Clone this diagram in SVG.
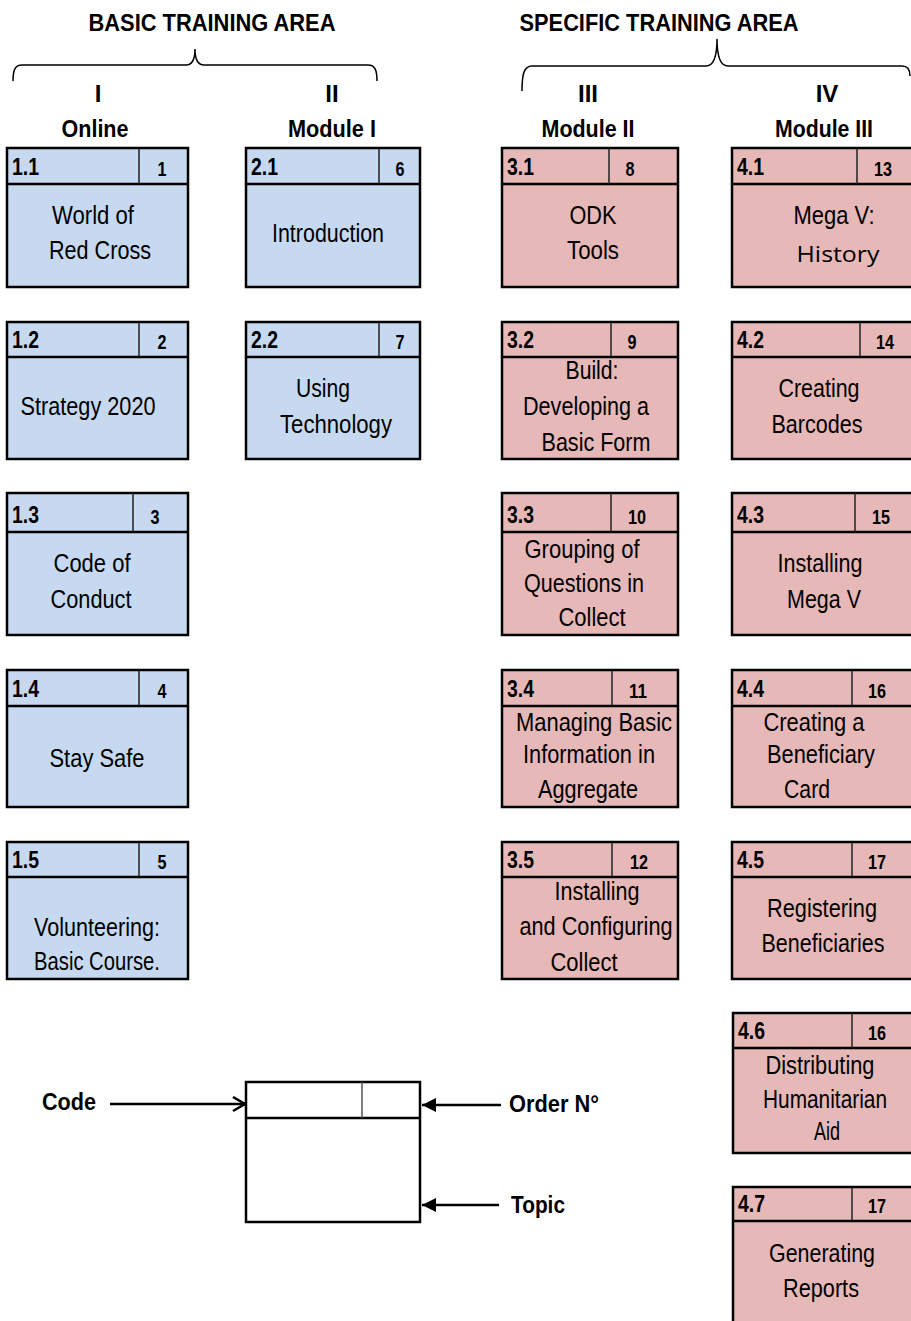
<svg xmlns="http://www.w3.org/2000/svg" width="911" height="1321" viewBox="0 0 911 1321">
<style>
text{font-family:'Liberation Sans Narrow','Liberation Sans',Arial,sans-serif;fill:#000}
.h{font-size:24px;font-weight:bold;text-anchor:middle}
.t{font-size:25px;text-anchor:middle}
.c{font-size:23px;font-weight:bold}
.n{font-size:20px;font-weight:bold;text-anchor:middle}
.lg{font-size:24px;font-weight:bold}
.blue rect{fill:#C6D9F0;stroke:#000;stroke-width:2.5}
.pink rect{fill:#E6B8B7;stroke:#000;stroke-width:2.5}
.hd{stroke:#000;stroke-width:2.5}
.dv{stroke:#222;stroke-width:1.5}
.br{fill:none;stroke:#000;stroke-width:1.5}
.ar{stroke:#000;stroke-width:2.5;fill:none}
</style>
<defs>
<marker id="open" markerUnits="userSpaceOnUse" markerWidth="16" markerHeight="18" refX="13" refY="8" orient="auto"><path d="M1,1 L13,8 L1,15" fill="none" stroke="#000" stroke-width="2.5"/></marker>
<marker id="fill" markerUnits="userSpaceOnUse" markerWidth="16" markerHeight="16" refX="14" refY="7" orient="auto"><path d="M0,0 L14,7 L0,14 z" fill="#000"/></marker>
</defs>

<g id="titles">
<text class="h" x="212" y="31" textLength="247" lengthAdjust="spacingAndGlyphs">BASIC TRAINING AREA</text>
<text class="h" x="659" y="31" textLength="279" lengthAdjust="spacingAndGlyphs">SPECIFIC TRAINING AREA</text>
<path class="br" d="M13,81 C13,70 15,65 22,65 L186,65 C192,65 195,60 195,49 C195,60 198,65 204,65 L368,65 C375,65 377,70 377,81"/>
<path class="br" d="M522,91 C522,74 524,66 532,66 L706,66 C713,66 717,58 717,39 C717,58 721,66 728,66 L902,66 C908,66 910,70 910,76"/>
<text class="h" x="98" y="102">I</text>
<text class="h" x="95" y="137" textLength="67" lengthAdjust="spacingAndGlyphs">Online</text>
<text class="h" x="332" y="102">II</text>
<text class="h" x="332" y="137" textLength="88" lengthAdjust="spacingAndGlyphs">Module I</text>
<text class="h" x="588" y="102">III</text>
<text class="h" x="588" y="137" textLength="93" lengthAdjust="spacingAndGlyphs">Module II</text>
<text class="h" x="827" y="102">IV</text>
<text class="h" x="824" y="137" textLength="98" lengthAdjust="spacingAndGlyphs">Module III</text>
</g>

<!-- Column I -->
<g id="n1-1" class="blue">
<rect x="7" y="148" width="181" height="139"/>
<line class="hd" x1="7" y1="184" x2="188" y2="184"/><line class="dv" x1="139" y1="148" x2="139" y2="184"/>
<text class="c" x="12" y="175" textLength="27" lengthAdjust="spacingAndGlyphs">1.1</text>
<text class="n" x="162" y="176" textLength="9" lengthAdjust="spacingAndGlyphs">1</text>
<text class="t" x="93" y="224" textLength="82" lengthAdjust="spacingAndGlyphs">World of</text>
<text class="t" x="100" y="259" textLength="102" lengthAdjust="spacingAndGlyphs">Red Cross</text>
</g>
<g id="n1-2" class="blue">
<rect x="7" y="322" width="181" height="137"/>
<line class="hd" x1="7" y1="357" x2="188" y2="357"/><line class="dv" x1="139" y1="322" x2="139" y2="357"/>
<text class="c" x="12" y="348" textLength="27" lengthAdjust="spacingAndGlyphs">1.2</text>
<text class="n" x="162" y="349" textLength="9" lengthAdjust="spacingAndGlyphs">2</text>
<text class="t" x="88" y="415" textLength="135" lengthAdjust="spacingAndGlyphs">Strategy 2020</text>
</g>
<g id="n1-3" class="blue">
<rect x="7" y="493" width="181" height="142"/>
<line class="hd" x1="7" y1="532" x2="188" y2="532"/><line class="dv" x1="133" y1="493" x2="133" y2="532"/>
<text class="c" x="12" y="523" textLength="27" lengthAdjust="spacingAndGlyphs">1.3</text>
<text class="n" x="155" y="524" textLength="9" lengthAdjust="spacingAndGlyphs">3</text>
<text class="t" x="92" y="572" textLength="77" lengthAdjust="spacingAndGlyphs">Code of</text>
<text class="t" x="91" y="608" textLength="81" lengthAdjust="spacingAndGlyphs">Conduct</text>
</g>
<g id="n1-4" class="blue">
<rect x="7" y="670" width="181" height="137"/>
<line class="hd" x1="7" y1="706" x2="188" y2="706"/><line class="dv" x1="139" y1="670" x2="139" y2="706"/>
<text class="c" x="12" y="697" textLength="27" lengthAdjust="spacingAndGlyphs">1.4</text>
<text class="n" x="162" y="698" textLength="9" lengthAdjust="spacingAndGlyphs">4</text>
<text class="t" x="97" y="767" textLength="95" lengthAdjust="spacingAndGlyphs">Stay Safe</text>
</g>
<g id="n1-5" class="blue">
<rect x="7" y="842" width="181" height="137"/>
<line class="hd" x1="7" y1="877" x2="188" y2="877"/><line class="dv" x1="139" y1="842" x2="139" y2="877"/>
<text class="c" x="12" y="868" textLength="27" lengthAdjust="spacingAndGlyphs">1.5</text>
<text class="n" x="162" y="869" textLength="9" lengthAdjust="spacingAndGlyphs">5</text>
<text class="t" x="97" y="936" textLength="126" lengthAdjust="spacingAndGlyphs">Volunteering:</text>
<text class="t" x="97" y="970" textLength="126" lengthAdjust="spacingAndGlyphs">Basic Course.</text>
</g>

<!-- Column II -->
<g id="n2-1" class="blue">
<rect x="246" y="148" width="174" height="139"/>
<line class="hd" x1="246" y1="184" x2="420" y2="184"/><line class="dv" x1="379" y1="148" x2="379" y2="184"/>
<text class="c" x="251" y="175" textLength="27" lengthAdjust="spacingAndGlyphs">2.1</text>
<text class="n" x="400" y="176" textLength="9" lengthAdjust="spacingAndGlyphs">6</text>
<text class="t" x="328" y="242" textLength="112" lengthAdjust="spacingAndGlyphs">Introduction</text>
</g>
<g id="n2-2" class="blue">
<rect x="246" y="322" width="174" height="137"/>
<line class="hd" x1="246" y1="357" x2="420" y2="357"/><line class="dv" x1="379" y1="322" x2="379" y2="357"/>
<text class="c" x="251" y="348" textLength="27" lengthAdjust="spacingAndGlyphs">2.2</text>
<text class="n" x="400" y="349" textLength="9" lengthAdjust="spacingAndGlyphs">7</text>
<text class="t" x="323" y="397" textLength="54" lengthAdjust="spacingAndGlyphs">Using</text>
<text class="t" x="336" y="433" textLength="112" lengthAdjust="spacingAndGlyphs">Technology</text>
</g>

<!-- Column III -->
<g id="n3-1" class="pink">
<rect x="502" y="148" width="176" height="139"/>
<line class="hd" x1="502" y1="184" x2="678" y2="184"/><line class="dv" x1="609" y1="148" x2="609" y2="184"/>
<text class="c" x="507" y="175" textLength="27" lengthAdjust="spacingAndGlyphs">3.1</text>
<text class="n" x="630" y="176" textLength="9" lengthAdjust="spacingAndGlyphs">8</text>
<text class="t" x="593" y="224" textLength="47" lengthAdjust="spacingAndGlyphs">ODK</text>
<text class="t" x="593" y="259" textLength="52" lengthAdjust="spacingAndGlyphs">Tools</text>
</g>
<g id="n3-2" class="pink">
<rect x="502" y="322" width="176" height="137"/>
<line class="hd" x1="502" y1="357" x2="678" y2="357"/><line class="dv" x1="611" y1="322" x2="611" y2="357"/>
<text class="c" x="507" y="348" textLength="27" lengthAdjust="spacingAndGlyphs">3.2</text>
<text class="n" x="632" y="349" textLength="9" lengthAdjust="spacingAndGlyphs">9</text>
<text class="t" x="592" y="379" textLength="53" lengthAdjust="spacingAndGlyphs">Build:</text>
<text class="t" x="586" y="415" textLength="126" lengthAdjust="spacingAndGlyphs">Developing a</text>
<text class="t" x="596" y="451" textLength="109" lengthAdjust="spacingAndGlyphs">Basic Form</text>
</g>
<g id="n3-3" class="pink">
<rect x="502" y="493" width="176" height="142"/>
<line class="hd" x1="502" y1="532" x2="678" y2="532"/><line class="dv" x1="611" y1="493" x2="611" y2="532"/>
<text class="c" x="507" y="523" textLength="27" lengthAdjust="spacingAndGlyphs">3.3</text>
<text class="n" x="637" y="524" textLength="18" lengthAdjust="spacingAndGlyphs">10</text>
<text class="t" x="582" y="558" textLength="115" lengthAdjust="spacingAndGlyphs">Grouping of</text>
<text class="t" x="584" y="592" textLength="120" lengthAdjust="spacingAndGlyphs">Questions in</text>
<text class="t" x="592" y="626" textLength="67" lengthAdjust="spacingAndGlyphs">Collect</text>
</g>
<g id="n3-4" class="pink">
<rect x="502" y="670" width="176" height="137"/>
<line class="hd" x1="502" y1="706" x2="678" y2="706"/><line class="dv" x1="612" y1="670" x2="612" y2="706"/>
<text class="c" x="507" y="697" textLength="27" lengthAdjust="spacingAndGlyphs">3.4</text>
<text class="n" x="638" y="698" textLength="18" lengthAdjust="spacingAndGlyphs">11</text>
<text class="t" x="594" y="731" textLength="156" lengthAdjust="spacingAndGlyphs">Managing Basic</text>
<text class="t" x="589" y="763" textLength="132" lengthAdjust="spacingAndGlyphs">Information in</text>
<text class="t" x="588" y="798" textLength="100" lengthAdjust="spacingAndGlyphs">Aggregate</text>
</g>
<g id="n3-5" class="pink">
<rect x="502" y="842" width="176" height="137"/>
<line class="hd" x1="502" y1="877" x2="678" y2="877"/><line class="dv" x1="612" y1="842" x2="612" y2="877"/>
<text class="c" x="507" y="868" textLength="27" lengthAdjust="spacingAndGlyphs">3.5</text>
<text class="n" x="639" y="869" textLength="18" lengthAdjust="spacingAndGlyphs">12</text>
<text class="t" x="597" y="900" textLength="85" lengthAdjust="spacingAndGlyphs">Installing</text>
<text class="t" x="596" y="935" textLength="153" lengthAdjust="spacingAndGlyphs">and Configuring</text>
<text class="t" x="584" y="971" textLength="67" lengthAdjust="spacingAndGlyphs">Collect</text>
</g>

<!-- Column IV -->
<g id="n4-1" class="pink">
<rect x="732" y="148" width="186" height="139"/>
<line class="hd" x1="732" y1="184" x2="918" y2="184"/><line class="dv" x1="857" y1="148" x2="857" y2="184"/>
<text class="c" x="737" y="175" textLength="27" lengthAdjust="spacingAndGlyphs">4.1</text>
<text class="n" x="883" y="176" textLength="18" lengthAdjust="spacingAndGlyphs">13</text>
<text class="t" x="834" y="224" textLength="81" lengthAdjust="spacingAndGlyphs">Mega V:</text>
<text x="838" y="262" style="font-family:'Open Sans','Noto Sans',sans-serif;font-size:22px;text-anchor:middle" textLength="83" lengthAdjust="spacingAndGlyphs">History</text>
</g>
<g id="n4-2" class="pink">
<rect x="732" y="322" width="186" height="137"/>
<line class="hd" x1="732" y1="357" x2="918" y2="357"/><line class="dv" x1="860" y1="322" x2="860" y2="357"/>
<text class="c" x="737" y="348" textLength="27" lengthAdjust="spacingAndGlyphs">4.2</text>
<text class="n" x="885" y="349" textLength="18" lengthAdjust="spacingAndGlyphs">14</text>
<text class="t" x="819" y="397" textLength="81" lengthAdjust="spacingAndGlyphs">Creating</text>
<text class="t" x="817" y="433" textLength="91" lengthAdjust="spacingAndGlyphs">Barcodes</text>
</g>
<g id="n4-3" class="pink">
<rect x="732" y="493" width="186" height="142"/>
<line class="hd" x1="732" y1="532" x2="918" y2="532"/><line class="dv" x1="855" y1="493" x2="855" y2="532"/>
<text class="c" x="737" y="523" textLength="27" lengthAdjust="spacingAndGlyphs">4.3</text>
<text class="n" x="881" y="524" textLength="18" lengthAdjust="spacingAndGlyphs">15</text>
<text class="t" x="820" y="572" textLength="85" lengthAdjust="spacingAndGlyphs">Installing</text>
<text class="t" x="824" y="608" textLength="74" lengthAdjust="spacingAndGlyphs">Mega V</text>
</g>
<g id="n4-4" class="pink">
<rect x="732" y="670" width="186" height="137"/>
<line class="hd" x1="732" y1="706" x2="918" y2="706"/><line class="dv" x1="852" y1="670" x2="852" y2="706"/>
<text class="c" x="737" y="697" textLength="27" lengthAdjust="spacingAndGlyphs">4.4</text>
<text class="n" x="877" y="698" textLength="18" lengthAdjust="spacingAndGlyphs">16</text>
<text class="t" x="814" y="731" textLength="101" lengthAdjust="spacingAndGlyphs">Creating a</text>
<text class="t" x="821" y="763" textLength="108" lengthAdjust="spacingAndGlyphs">Beneficiary</text>
<text class="t" x="807" y="798" textLength="46" lengthAdjust="spacingAndGlyphs">Card</text>
</g>
<g id="n4-5" class="pink">
<rect x="732" y="842" width="186" height="137"/>
<line class="hd" x1="732" y1="877" x2="918" y2="877"/><line class="dv" x1="852" y1="842" x2="852" y2="877"/>
<text class="c" x="737" y="868" textLength="27" lengthAdjust="spacingAndGlyphs">4.5</text>
<text class="n" x="877" y="869" textLength="18" lengthAdjust="spacingAndGlyphs">17</text>
<text class="t" x="822" y="917" textLength="110" lengthAdjust="spacingAndGlyphs">Registering</text>
<text class="t" x="823" y="952" textLength="123" lengthAdjust="spacingAndGlyphs">Beneficiaries</text>
</g>
<g id="n4-6" class="pink">
<rect x="733" y="1013" width="185" height="140"/>
<line class="hd" x1="733" y1="1048" x2="918" y2="1048"/><line class="dv" x1="852" y1="1013" x2="852" y2="1048"/>
<text class="c" x="738" y="1039" textLength="27" lengthAdjust="spacingAndGlyphs">4.6</text>
<text class="n" x="877" y="1040" textLength="18" lengthAdjust="spacingAndGlyphs">16</text>
<text class="t" x="820" y="1074" textLength="109" lengthAdjust="spacingAndGlyphs">Distributing</text>
<text class="t" x="825" y="1108" textLength="124" lengthAdjust="spacingAndGlyphs">Humanitarian</text>
<text class="t" x="827" y="1140" textLength="26" lengthAdjust="spacingAndGlyphs">Aid</text>
</g>
<g id="n4-7" class="pink">
<rect x="733" y="1187" width="185" height="150"/>
<line class="hd" x1="733" y1="1221" x2="918" y2="1221"/><line class="dv" x1="852" y1="1187" x2="852" y2="1221"/>
<text class="c" x="738" y="1212" textLength="27" lengthAdjust="spacingAndGlyphs">4.7</text>
<text class="n" x="877" y="1213" textLength="18" lengthAdjust="spacingAndGlyphs">17</text>
<text class="t" x="822" y="1262" textLength="106" lengthAdjust="spacingAndGlyphs">Generating</text>
<text class="t" x="821" y="1297" textLength="76" lengthAdjust="spacingAndGlyphs">Reports</text>
</g>

<!-- Legend -->
<g id="legend">
<rect x="246" y="1082" width="174" height="140" fill="#fff" stroke="#000" stroke-width="2.5"/>
<line class="hd" x1="246" y1="1118" x2="420" y2="1118"/>
<line x1="362" y1="1082" x2="362" y2="1118" stroke="#555" stroke-width="1.5"/>
</g>
<g id="legend-labels">
<text class="lg" x="42" y="1110" textLength="54" lengthAdjust="spacingAndGlyphs">Code</text>
<text class="lg" x="509" y="1112" textLength="90" lengthAdjust="spacingAndGlyphs">Order N°</text>
<text class="lg" x="511" y="1213" textLength="54" lengthAdjust="spacingAndGlyphs">Topic</text>
</g>
<g id="connectors">
<line class="ar" x1="110" y1="1104" x2="245" y2="1104" marker-end="url(#open)"/>
<line class="ar" x1="501" y1="1105" x2="422" y2="1105" marker-end="url(#fill)"/>
<line class="ar" x1="499" y1="1205" x2="422" y2="1205" marker-end="url(#fill)"/>
</g>
</svg>
